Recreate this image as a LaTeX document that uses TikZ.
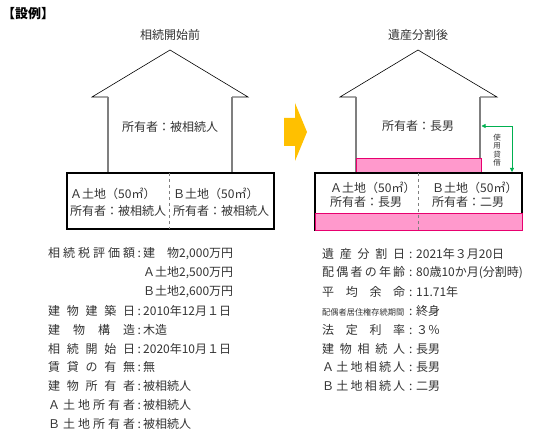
\documentclass[tikz,border=0pt]{standalone}
\usepackage{fontspec}
\setmainfont{Noto Sans CJK JP}
\usetikzlibrary{arrows.meta,positioning}
\definecolor{arrowamber}{HTML}{FFC000}
\definecolor{landpink}{HTML}{FF99CC}
\definecolor{edgepink}{HTML}{E8006F}
\definecolor{loangreen}{HTML}{00B050}
\definecolor{wallgrey}{HTML}{7F7F7F}
\definecolor{txtgrey}{HTML}{333333}

% spread the characters of a label over a fixed width
\def\spreadrest#1{\ifx#1\relax\else\hfill#1\expandafter\spreadrest\fi}
\def\spreadfirst#1{#1\spreadrest}
\newcommand{\lblL}[1]{\makebox[87pt][s]{\spreadfirst#1\relax}\makebox[8pt]{:}}
\newcommand{\lblR}[1]{\makebox[83pt][s]{\spreadfirst#1\relax}\makebox[11pt]{:}}

\begin{document}
\begin{tikzpicture}[x=1pt, y=-1pt,
  node distance=0pt,
  every node/.style={font=\fontsize{12}{14}\selectfont, text=txtgrey, inner sep=0pt},
  roof/.style={draw=black, line width=0.6pt},
  wall/.style={draw=wallgrey, line width=1.1pt},
  land/.style={draw=black, line width=1.2pt},
  split/.style={draw=wallgrey, dashed, line width=0.6pt},
  pinkband/.style={fill=landpink, draw=edgepink, line width=1pt},
  landtxt/.style={anchor=west, align=left, font=\fontsize{12}{16.7}\selectfont},
  listline/.style={anchor=west, minimum height=18.5pt},
  loan/.style={draw=loangreen, line width=0.8pt,
    {Triangle[length=4pt,width=4pt]}-{Triangle[length=4pt,width=4pt]}}]
\useasboundingbox (0,0) rectangle (540,430);
\node[anchor=west, font=\fontsize{13}{14}\selectfont\bfseries, text=black] (case) at (2,14) {【設例】};

% before
\node (beforettl) at (170,35) {相続開始前};
\draw[roof] (108,97) -- (92,97) -- (170,50) -- (248,97) -- (232,97);
\draw[wall] (108,97) -- (108,173) (232,97) -- (232,173);
\node (ownerL) at (170,127) {所有者：被相続人};
\draw[land] (67,173) rectangle (274,229);
\draw[split] (169,173) -- (169,229);
\node[landtxt] (landAL) at (70,202) {Ａ土地（50㎡）\\所有者：被相続人};
\node[landtxt] (landBL) at (173,202) {Ｂ土地（50㎡）\\所有者：被相続人};

\fill[arrowamber] (284,118) -- (295,118) -- (295,103) -- (307,132)
  -- (295,161) -- (295,146) -- (284,146) -- cycle;

% after
\node (afterttl) at (418,35) {遺産分割後};
\draw[roof] (356,97) -- (340,97) -- (418,50) -- (497,97) -- (480,97);
\draw[wall] (356,97) -- (356,173) (480,97) -- (480,173);
\node (ownerR) at (418,126) {所有者：長男};
\draw[pinkband] (356,159) rectangle (481,173);
\draw[land] (315,173) rectangle (522,230);
\draw[pinkband] (315,214) rectangle (522,230);
\draw[split] (418,173) -- (418,230);
\node[landtxt, font=\fontsize{12}{14}\selectfont] (landAR) at (330,195) {Ａ土地（50㎡）\\所有者：長男};
\node[landtxt, font=\fontsize{12}{14}\selectfont] (landBR) at (432,195) {Ｂ土地（50㎡）\\所有者：二男};

\coordinate (wallhit) at (481.5,126);
\coordinate (landhit) at (512,172);
\draw[loan] (wallhit) -| (landhit);
\node[font=\fontsize{7.5}{8.5}\selectfont, align=center] (loanlbl) at (497,150) {使\\用\\貸\\借};

% left list
\node[listline] (l1) at (48,254) {\lblL{相続税評価額}建　物2,000万円};
\node[listline, below=of l1.south west, anchor=north west] (l2) {\hspace*{95pt}Ａ土地2,500万円};
\node[listline, below=of l2.south west, anchor=north west] (l3) {\hspace*{95pt}Ｂ土地2,600万円};
\node[listline, below=of l3.south west, anchor=north west] (l4) {\lblL{建物建築日}2010年12月１日};
\node[listline, below=of l4.south west, anchor=north west] (l5) {\lblL{建物構造}木造};
\node[listline, below=of l5.south west, anchor=north west] (l6) {\lblL{相続開始日}2020年10月１日};
\node[listline, below=of l6.south west, anchor=north west] (l7) {\lblL{賃貸の有無}無};
\node[listline, below=of l7.south west, anchor=north west] (l8) {\lblL{建物所有者}被相続人};
\node[listline, below=of l8.south west, anchor=north west] (l9) {\lblL{Ａ土地所有者}被相続人};
\node[listline, below=of l9.south west, anchor=north west] (l10) {\lblL{Ｂ土地所有者}被相続人};

% right list
\node[listline] (r1) at (322,254) {\lblR{遺産分割日}2021年３月20日};
\node[listline, below=of r1.south west, anchor=north west] (r2) {\lblR{配偶者の年齢}80歳10か月(分割時)};
\node[listline, below=of r2.south west, anchor=north west] (r3) {\lblR{平均余命}11.71年};
\node[listline, below=of r3.south west, anchor=north west] (r4)
  {\makebox[83pt][l]{\fontsize{8.2}{10}\selectfont 配偶者居住権存続期間}\makebox[11pt]{:}終身};
\node[listline, below=of r4.south west, anchor=north west] (r5) {\lblR{法定利率}３％};
\node[listline, below=of r5.south west, anchor=north west] (r6) {\lblR{建物相続人}長男};
\node[listline, below=of r6.south west, anchor=north west] (r7) {\lblR{Ａ土地相続人}長男};
\node[listline, below=of r7.south west, anchor=north west] (r8) {\lblR{Ｂ土地相続人}二男};
\end{tikzpicture}
\end{document}
